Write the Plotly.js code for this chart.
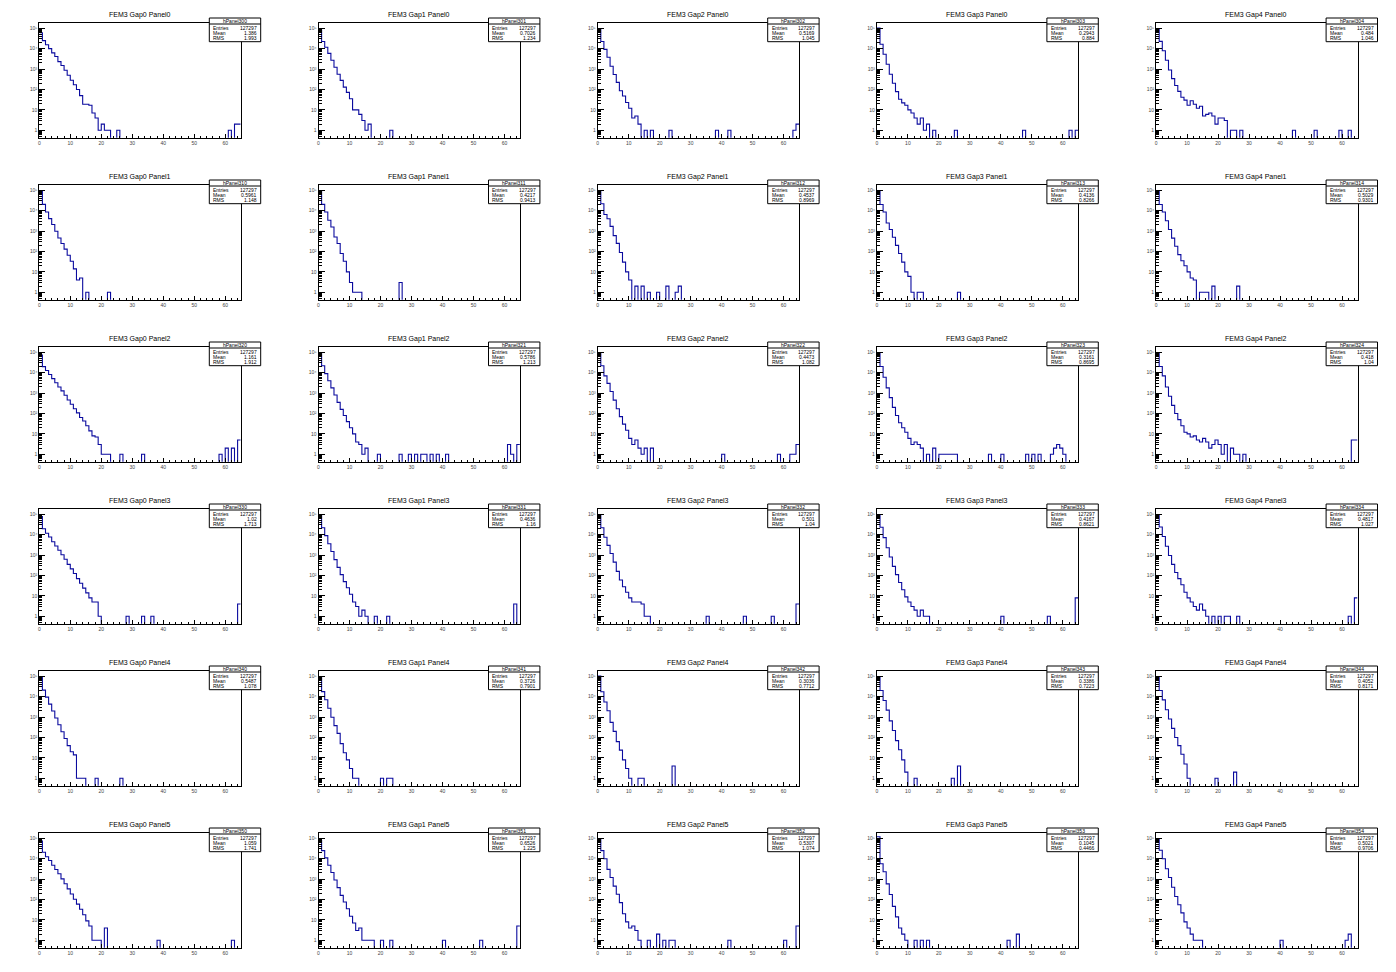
<!DOCTYPE html>
<html><head><meta charset="utf-8">
<script src="https://cdn.plot.ly/plotly-3.0.1.min.js"></script>
<style>html,body{margin:0;padding:0;background:#fff;} #chart{width:1396px;height:972px;}</style>
</head><body><div id="chart"></div>
<script>
// ---------- data (counts per unit bin, bins 0..64; head = leading bins, tail = [bin, count] pairs) ----------
const gapNames = ['Gap0','Gap1','Gap2','Gap3','Gap4'];
const panelNames = ['Panel0','Panel1','Panel2','Panel3','Panel4','Panel5'];
const entries = 127297;
const means = [
  ['1.386','0.7026','0.5169','0.2943','0.484'],
  ['0.5961','0.4217','0.4537','0.4136','0.5029'],
  ['1.161','0.5786','0.4473','0.3161','0.418'],
  ['1.02','0.4636','0.501','0.4167','0.4817'],
  ['0.5487','0.3726','0.3036','0.3386','0.4052'],
  ['1.059','0.6526','0.5307','0.1045','0.5021']];
const rmsVals = [
  ['1.993','1.234','1.045','0.884','1.046'],
  ['1.148','0.9413','0.8969','0.8266','0.9301'],
  ['1.912','1.213','1.082','0.8695','1.04'],
  ['1.713','1.16','1.04','0.8621','1.027'],
  ['1.078','0.7901','0.7712','0.7223','0.8171'],
  ['1.741','1.225','1.074','0.4466','0.9706']];
const yTickVals = [1, 10, 100, 1000, 10000, 100000];
const yTickText = ['1', '10', '10\u00b2', '10\u00b3', '10\u2074', '10\u2075'];

// row Panel0
const h300 = [60200,24900,15730,10110,6220,4150,2330,1500,880,500,285,170,100,50,19,19,17,7,4,1,2,1,1,0,0,1];
const t300 = [[61,1],[63,2],[64,2]];
const h301 = [82300,22400,11700,5900,2700,1230,560,280,130,72,35,10,10,6,3,1,2,0,0,0,0,0,0,1];
const t301 = [];
const h302 = [89500,22400,9300,3800,1380,540,224,87,48,23,12,4,5,2,0,1,0,1,0,0,0,0,0,1];
const t302 = [[38,1],[42,1],[63,1],[64,2]];
const h303 = [102600,16600,5350,1740,560,204,79,33,22,17,10,7,4,2,4,1,2,0,1];
const t303 = [[25,1],[47,1],[62,1],[64,1]];
const h304 = [92100,22900,7900,2700,910,340,158,81,42,30,17,28,19,12,15,5,6,7,5,2,4,4,3,0,1,1,0,1];
const t304 = [[44,1],[51,1],[59,1],[62,1]];
// row Panel1
const h310 = [90000,20400,8700,4100,2100,980,460,245,130,65,33,14,4,5,0,1];
const t310 = [[22,1]];
const h311 = [92300,20400,8700,3400,1600,510,245,80,33,10,3,1,1,1];
const t311 = [[26,3]];
const h312 = [92100,22000,6500,4000,1700,600,250,90,30,10,4,0,2,0,2,0,1,0,0,1,0,0,2,0,0,1,2];
const t312 = [];
const h313 = [94000,20000,8700,2500,1200,500,200,80,30,10,6,1,0,1,1];
const t313 = [[26,1]];
const h314 = [93400,20000,8700,3200,1200,450,180,70,35,20,10,5,4,0,1,1,1,0,2];
const t314 = [[26,2]];
// row Panel2
const h320 = [72800,19900,12800,8200,5100,3200,2000,1280,780,460,285,170,107,64,43,25,14,8,7,3,1,1,1,0,0,0,1];
const t320 = [[33,1],[58,1],[60,2],[62,2],[64,5]];
const h321 = [89600,22000,9000,4000,1800,800,350,160,80,40,20,10,4,3,1,2,0,0,0,1,0,0,0,0,0,0,1,0,0,1,0,1,0,1,1,0,1,0,1,0,0,1];
const t321 = [[61,3],[62,1],[64,3]];
const h322 = [93300,22000,7000,3000,1200,450,170,70,30,15,6,3,5,2,1,2,0,2];
const t322 = [[40,1],[58,1],[62,1],[63,1],[64,3]];
const h323 = [98500,20000,6000,1800,600,200,80,35,20,12,6,3,4,3,2,0,1,0,2,0,1,1,1,1,1,1];
const t323 = [[36,1],[40,1],[48,1],[50,1],[52,1],[56,1],[57,2],[58,3],[59,2],[60,1]];
const h324 = [97000,20000,7000,2000,700,250,100,50,25,12,10,7,8,5,4,6,4,2,3,5,3,1,3,0,2,1,1,0,1];
const t324 = [[63,5],[64,5]];
// row Panel3
const h330 = [76800,19500,11800,7650,4500,2800,1740,1040,625,350,210,125,70,42,24,14,8,5,5,1];
const t330 = [[28,1],[33,1],[36,1],[64,4]];
const h331 = [90100,22000,9000,3600,1500,600,250,110,50,25,12,5,3,1,2,1,0,0,1];
const t331 = [[22,1],[63,4]];
const h332 = [92800,22000,7500,3000,1200,450,160,60,28,15,8,5,5,5,4,1,1];
const t332 = [[35,1],[47,1],[56,1],[64,4]];
const h333 = [93500,23000,7200,2300,800,280,110,45,20,9,5,3,2,1,2,1,1];
const t333 = [[40,1],[55,1],[64,8]];
const h334 = [90800,24000,8200,2700,950,350,140,70,35,15,8,5,3,2,4,2,1,0,1,0,1,0,1,1,0,0,1];
const t334 = [[62,1],[64,8]];
// row Panel4
const h340 = [88800,21000,9500,4300,2000,900,420,190,90,40,20,14,1,1,1,0,0,0,1];
const t340 = [[26,1]];
const h341 = [98100,17800,7100,2700,980,380,160,50,18,8,3,1,1];
const t341 = [[20,1],[22,1],[23,1]];
const h342 = [101500,17400,5500,2050,550,200,63,24,8,3,1,0,0,1,1];
const t342 = [[24,4]];
const h343 = [97600,20000,6500,2200,650,220,70,25,8,2,0,0,1];
const t343 = [[24,1],[26,4]];
const h344 = [96750,20000,7000,2300,800,280,100,40,15,5,1];
const t344 = [[19,1],[25,2]];
// row Panel5
const h350 = [74100,20600,12500,8100,4800,2950,1840,1030,590,330,185,103,59,33,18,9,5,1,1,1,0,4];
const t350 = [[38,1],[62,1]];
const h351 = [77800,25000,11000,4800,2100,900,380,160,75,35,15,7,3,4,1,1,1,1,0,0,1,0,0,1];
const t351 = [[40,1],[52,1],[64,5]];
const h352 = [87300,25000,10000,3000,1200,450,180,70,20,8,4,5,3,1,0,0,1,0,0,2,0,1,0,1,1];
const t352 = [[42,1],[60,1],[64,5]];
const h353 = [118500,5700,2300,580,175,46,14,4,2,1,0,0,1,0,1,0,1];
const t353 = [[42,1],[45,2]];
const h354 = [86300,26000,10000,3200,1200,400,140,55,22,8,4,2,1,1,1];
const t354 = [[40,1],[61,1],[62,2]];

const heads = [[h300,h301,h302,h303,h304],[h310,h311,h312,h313,h314],[h320,h321,h322,h323,h324],
               [h330,h331,h332,h333,h334],[h340,h341,h342,h343,h344],[h350,h351,h352,h353,h354]];
const tails = [[t300,t301,t302,t303,t304],[t310,t311,t312,t313,t314],[t320,t321,t322,t323,t324],
               [t330,t331,t332,t333,t334],[t340,t341,t342,t343,t344],[t350,t351,t352,t353,t354]];

// ---------- layout ----------
const W = 1396, H = 972, NC = 5, NR = 6, NBINS = 65;
const padW = W / NC, padH = H / NR;
const fL = 39.3, fR = 240.7, fT = 23.3, fB = 137.7;
const yRange = [-0.363, 5.245];
const histColor = '#0a0a9e';
const FONT = 'Liberation Sans, Arial, Helvetica, sans-serif';

function fullCounts(head, tail) {
  const a = new Array(NBINS).fill(0);
  head.forEach((v, i) => { a[i] = v; });
  tail.forEach(p => { a[p[0]] = p[1]; });
  return a;
}
const edges = [];
for (let i = 0; i <= NBINS; i++) edges.push(i);

const traces = [], layout = {
  width: W, height: H, margin: {l: 0, r: 0, t: 0, b: 0},
  paper_bgcolor: '#fff', plot_bgcolor: '#fff', showlegend: false,
  font: {family: FONT, color: '#000', size: 6}, annotations: [], shapes: []
};
const px = x => x / W, py = y => 1 - y / H;

for (let r = 0; r < NR; r++) {
  for (let c = 0; c < NC; c++) {
    const k = r * NC + c + 1;
    const sx = k === 1 ? '' : String(k);
    const counts = fullCounts(heads[r][c], tails[r][c]);
    const ys = counts.map(v => v > 0 ? v : 1e-3);
    ys.push(ys[ys.length - 1]);
    traces.push({
      type: 'scatter', mode: 'lines', x: edges, y: ys,
      xaxis: 'x' + sx, yaxis: 'y' + sx,
      line: {shape: 'hv', color: histColor, width: 1.1}, hoverinfo: 'skip'
    });
    const x0 = c * padW, y0 = r * padH;
    layout['xaxis' + sx] = {
      domain: [px(x0 + fL), px(x0 + fR)], anchor: 'y' + sx, range: [0, NBINS],
      tick0: 0, dtick: 10, ticks: 'inside', ticklen: 3.4, tickwidth: 1, tickcolor: '#000',
      minor: {dtick: 2, ticks: 'inside', ticklen: 1.8, tickwidth: 1, tickcolor: '#000', showgrid: false},
      showgrid: false, zeroline: false, showline: true, mirror: true, linecolor: '#000', linewidth: 1,
      tickfont: {size: 5, color: '#444', family: FONT}, fixedrange: true
    };
    layout['yaxis' + sx] = {
      domain: [py(y0 + fB), py(y0 + fT)], anchor: 'x' + sx, type: 'log', range: yRange,
      tickmode: 'array', tickvals: yTickVals, ticktext: yTickText,
      ticks: 'inside', ticklen: 6, tickwidth: 1, tickcolor: '#000',
      minor: {tickmode: 'linear', dtick: 'D1', ticks: 'inside', ticklen: 3, tickwidth: 1, tickcolor: '#000', showgrid: false},
      showgrid: false, zeroline: false, showline: true, mirror: true, linecolor: '#000', linewidth: 1,
      tickfont: {size: 5, color: '#444', family: FONT}, fixedrange: true
    };
    // title
    layout.annotations.push({
      xref: 'paper', yref: 'paper', x: px(x0 + padW / 2), y: py(y0 + 15),
      xanchor: 'center', yanchor: 'middle', showarrow: false,
      text: 'FEM3 ' + gapNames[c] + ' ' + panelNames[r], font: {size: 7, family: FONT, color: '#000'}
    });
    // stats box
    const bx0 = x0 + 209.3, bx1 = x0 + 260.7, by0 = y0 + 18, by1 = y0 + 41.7;
    layout.shapes.push({type: 'rect', xref: 'paper', yref: 'paper', x0: px(bx0), x1: px(bx1), y0: py(by1), y1: py(by0),
      fillcolor: '#fff', line: {color: '#000', width: 1}, layer: 'above'});
    layout.shapes.push({type: 'line', xref: 'paper', yref: 'paper', x0: px(bx0), x1: px(bx1), y0: py(y0 + 24), y1: py(y0 + 24),
      line: {color: '#000', width: 1}, layer: 'above'});
    const sf = {size: 5, family: FONT, color: '#000'};
    layout.annotations.push({xref: 'paper', yref: 'paper', x: px((bx0 + bx1) / 2), y: py(y0 + 21.1), xanchor: 'center', yanchor: 'middle',
      showarrow: false, text: 'hPanel3' + r + c, font: sf});
    const rows = [['Entries', String(entries)], ['Mean', means[r][c]], ['RMS', rmsVals[r][c]]];
    const rowY = [27.6, 32.9, 38.2];
    rows.forEach((rw, i) => {
      layout.annotations.push({xref: 'paper', yref: 'paper', x: px(bx0 + 1.8), y: py(y0 + rowY[i]), xanchor: 'left', yanchor: 'middle',
        showarrow: false, text: rw[0], font: sf});
      layout.annotations.push({xref: 'paper', yref: 'paper', x: px(bx1 - 1.8), y: py(y0 + rowY[i]), xanchor: 'right', yanchor: 'middle',
        showarrow: false, text: rw[1], font: sf});
    });
  }
}
Plotly.newPlot('chart', traces, layout, {staticPlot: true, displayModeBar: false});
</script>
</body></html>
